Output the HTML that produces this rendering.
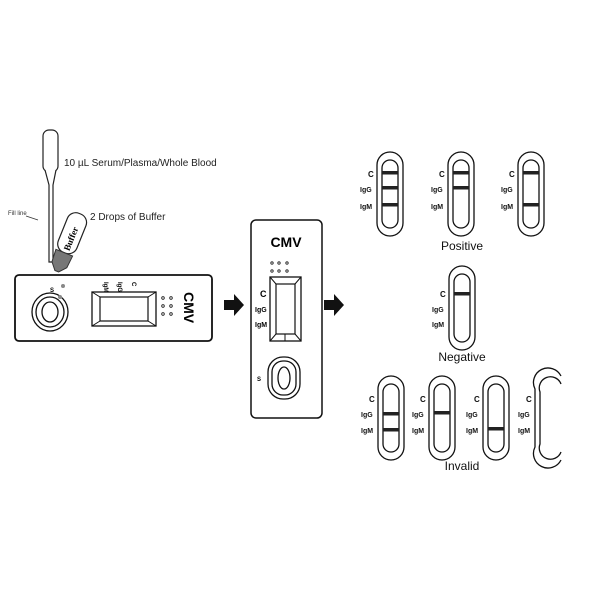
<!DOCTYPE html>
<html><head><style>body{margin:0;background:#fff}svg{display:block}</style></head><body>
<svg width="600" height="600" viewBox="0 0 600 600" xmlns="http://www.w3.org/2000/svg" font-family="Liberation Sans, sans-serif">
<defs>
<g id="strip"><rect x="0" y="0" width="26" height="84" rx="13" fill="#fff" stroke="#111" stroke-width="1.3"/><rect x="5" y="8" width="16" height="68" rx="8" fill="#fff" stroke="#111" stroke-width="1.3"/></g>
</defs>
<!-- pipette -->
<rect x="43" y="130" width="15" height="42" rx="6" fill="#fff" stroke="#222" stroke-width="1.2"/>
<path d="M45 170 L49 185 L49 262 L53 262 L53 185 L56 170" fill="#fff" stroke="#222" stroke-width="1.2"/>
<text x="64" y="166" font-size="10" fill="#222">10 µL Serum/Plasma/Whole Blood</text>
<text x="8" y="215" font-size="6" fill="#333">Fill line</text>
<line x1="26" y1="216" x2="38" y2="220" stroke="#333" stroke-width="0.8"/>
<!-- bottle -->
<g transform="translate(71,236) rotate(22)">
<rect x="-10" y="-24" width="20" height="42" rx="9" fill="#fff" stroke="#222" stroke-width="1.2"/>
<text transform="rotate(-90)" x="-15" y="4" font-size="9" font-weight="bold" font-family="Liberation Serif,serif">Buffer</text>
<path d="M-9 18 L9 18 L8 31 L2 38 L-2 38 L-8 31 Z" fill="#777" stroke="#333"/>
</g>
<text x="90" y="220" font-size="10" fill="#222">2 Drops of Buffer</text>
<!-- left cassette -->
<rect x="15" y="275" width="197" height="66" rx="4" fill="#fff" stroke="#111" stroke-width="1.8"/>
<ellipse cx="50" cy="312" rx="18" ry="19" fill="none" stroke="#111" stroke-width="1.3"/>
<ellipse cx="50" cy="312" rx="14" ry="15" fill="none" stroke="#111" stroke-width="1.3"/>
<ellipse cx="50" cy="312" rx="8" ry="10" fill="none" stroke="#111" stroke-width="1.3"/>
<circle cx="63" cy="286" r="2" fill="#888"/><circle cx="60" cy="297" r="2" fill="#888"/>
<text x="50" y="292" font-size="6" font-weight="bold">S</text>
<rect x="92" y="292" width="64" height="34" fill="#fff" stroke="#111" stroke-width="1.3"/>
<rect x="100" y="297" width="48" height="24" fill="none" stroke="#111" stroke-width="1.2"/>
<path d="M92 292L100 297M156 292L148 297M92 326L100 321M156 326L148 321" stroke="#111"/>
<g font-size="6" font-weight="bold"><text transform="translate(104,282) rotate(90)">IgM</text><text transform="translate(118,282) rotate(90)">IgG</text><text transform="translate(132,282) rotate(90)">C</text></g>
<g fill="#fff" stroke="#111" stroke-width="0.8"><circle cx="163" cy="298" r="1.3"/><circle cx="171" cy="298" r="1.3"/><circle cx="163" cy="306" r="1.3"/><circle cx="171" cy="306" r="1.3"/><circle cx="163" cy="314" r="1.3"/><circle cx="171" cy="314" r="1.3"/></g>
<text transform="translate(184,292) rotate(90)" font-size="14" font-weight="bold">CMV</text>
<!-- arrows -->
<path d="M224 300h10v-6l10 11-10 11v-6h-10z" fill="#111"/>
<path d="M324 300h10v-6l10 11-10 11v-6h-10z" fill="#111"/>
<!-- middle cassette -->
<rect x="251" y="220" width="71" height="198" rx="5" fill="#fff" stroke="#111" stroke-width="1.5"/>
<text x="286" y="247" font-size="14" font-weight="bold" text-anchor="middle">CMV</text>
<g fill="#fff" stroke="#111" stroke-width="0.8"><circle cx="272" cy="263" r="1.2"/><circle cx="279" cy="263" r="1.2"/><circle cx="287" cy="263" r="1.2"/><circle cx="272" cy="271" r="1.2"/><circle cx="279" cy="271" r="1.2"/><circle cx="287" cy="271" r="1.2"/></g>
<rect x="270" y="277" width="31" height="64" fill="#fff" stroke="#111" stroke-width="1.3"/>
<rect x="276" y="284" width="19" height="50" fill="none" stroke="#111" stroke-width="1.2"/>
<path d="M270 277L276 284M301 277L295 284M270 341L276 334M301 341L295 334M285 334L285 341" stroke="#111"/>
<g font-weight="bold"><text x="260" y="297" font-size="9">C</text><text x="255" y="312" font-size="7">IgG</text><text x="255" y="327" font-size="7">IgM</text></g>
<rect x="268" y="357" width="32" height="42" rx="15" fill="none" stroke="#111" stroke-width="1.3"/>
<rect x="272" y="361" width="24" height="34" rx="11" fill="none" stroke="#111" stroke-width="1.3"/>
<ellipse cx="284" cy="378" rx="6" ry="11" fill="none" stroke="#111" stroke-width="1.3"/>
<text x="257" y="381" font-size="6" font-weight="bold">S</text>
<!-- results -->
<g font-size="7" font-weight="bold" fill="#111">
<g transform="translate(377,152)"><use href="#strip"/><rect x="5" y="19" width="16" height="3.5" fill="#222"/><rect x="5" y="34" width="16" height="3.5" fill="#222"/><rect x="5" y="51" width="16" height="3.5" fill="#222"/><text x="-9" y="25" font-size="8">C</text><text x="-17" y="40">IgG</text><text x="-17" y="57">IgM</text></g>
<g transform="translate(448,152)"><use href="#strip"/><rect x="5" y="19" width="16" height="3.5" fill="#222"/><rect x="5" y="34" width="16" height="3.5" fill="#222"/><text x="-9" y="25" font-size="8">C</text><text x="-17" y="40">IgG</text><text x="-17" y="57">IgM</text></g>
<g transform="translate(518,152)"><use href="#strip"/><rect x="5" y="19" width="16" height="3.5" fill="#222"/><rect x="5" y="51" width="16" height="3.5" fill="#222"/><text x="-9" y="25" font-size="8">C</text><text x="-17" y="40">IgG</text><text x="-17" y="57">IgM</text></g>
<g transform="translate(449,266)"><use href="#strip"/><rect x="5" y="26" width="16" height="3.5" fill="#222"/><text x="-9" y="31" font-size="8">C</text><text x="-17" y="46">IgG</text><text x="-17" y="61">IgM</text></g>
<g transform="translate(378,376)"><use href="#strip"/><rect x="5" y="36" width="16" height="3.5" fill="#222"/><rect x="5" y="52" width="16" height="3.5" fill="#222"/><text x="-9" y="26" font-size="8">C</text><text x="-17" y="41">IgG</text><text x="-17" y="57">IgM</text></g>
<g transform="translate(429,376)"><use href="#strip"/><rect x="5" y="35" width="16" height="3.5" fill="#222"/><text x="-9" y="26" font-size="8">C</text><text x="-17" y="41">IgG</text><text x="-17" y="57">IgM</text></g>
<g transform="translate(483,376)"><use href="#strip"/><rect x="5" y="51" width="16" height="3.5" fill="#222"/><text x="-9" y="26" font-size="8">C</text><text x="-17" y="41">IgG</text><text x="-17" y="57">IgM</text></g>
<g transform="translate(535,376)"><path d="M26 0 A13 13 0 0 0 0 13 L0 71 A13 13 0 0 0 26 84 M26 8 A8 8 0 0 0 5 16 L5 68 A8 8 0 0 0 26 76" fill="none" stroke="#111" stroke-width="1.3"/><text x="-9" y="26" font-size="8">C</text><text x="-17" y="41">IgG</text><text x="-17" y="57">IgM</text></g>
</g>
<g font-size="12" fill="#111" text-anchor="middle"><text x="462" y="250">Positive</text><text x="462" y="361">Negative</text><text x="462" y="470">Invalid</text></g>
</svg>
</body></html>
